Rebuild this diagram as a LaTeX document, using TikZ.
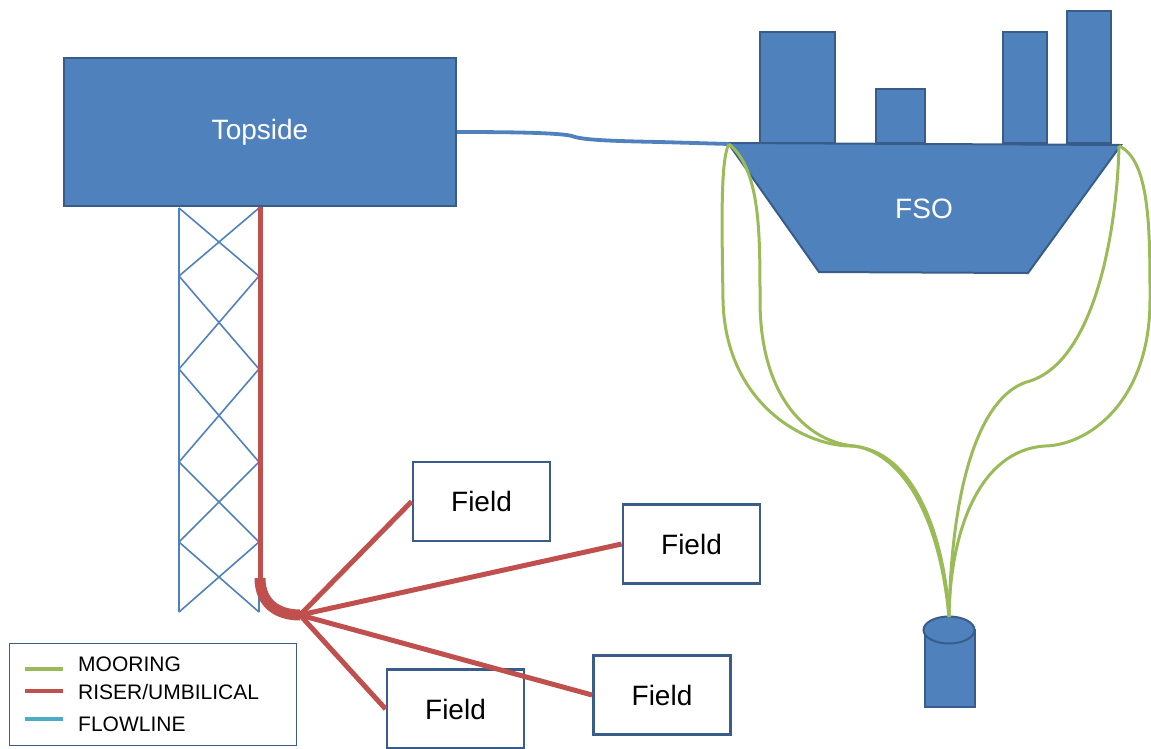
\documentclass[tikz,border=0pt]{standalone}
\usepackage{fontspec}
\setmainfont{Liberation Sans}
\usetikzlibrary{positioning}

\definecolor{shipblue}{HTML}{4F81BD}
\definecolor{edgeblue}{HTML}{385D8A}
\definecolor{riserred}{HTML}{C0504D}
\definecolor{mooringgreen}{HTML}{9BBB59}
\definecolor{flowcyan}{HTML}{4BACC6}

\begin{document}
\begin{tikzpicture}[x=1pt, y=-1pt,
			hull/.style={fill=shipblue, draw=edgeblue, line width=2pt},
			block/.style={rectangle, hull, text=white, font=\fontsize{28}{32}\selectfont},
			field/.style={rectangle, draw=edgeblue, line width=2.8pt, fill=white, inner sep=0pt,
					minimum width=137pt, minimum height=79pt, font=\fontsize{28}{32}\selectfont},
			jacket/.style={draw=shipblue, line width=1.6pt},
			riser/.style={draw=riserred, line width=5pt},
			mooring/.style={draw=mooringgreen, line width=3pt},
			flowline/.style={draw=shipblue, line width=3.8pt},
			legendtext/.style={anchor=west, inner sep=0pt, font=\fontsize{21}{24}\selectfont},]
		\useasboundingbox (0,0) rectangle (1151,748);

		% platform: topside on a lattice jacket
		\node (topside) [block, minimum width=392pt, minimum height=148pt] at (260,132) {Topside};

		\draw [jacket] (179,208) -- (179,612) (259,208) -- (259,612)
		(179,208) -- (259,276) -- (179,369) -- (259,462) -- (179,542) -- (259,612)
		(259,208) -- (179,276) -- (259,369) -- (179,462) -- (259,542) -- (179,612);

		% FSO with its deck houses
		\draw [hull] (760,32) rectangle (835,143);
		\draw [hull] (876,89) rectangle (925,143);
		\draw [hull] (1003,32) rectangle (1047,143);
		\draw [hull] (1067,11) rectangle (1111,143);
		\draw [hull] (728,143) -- (1121,145) -- (1028,273) -- (819,272) -- cycle;
		\node (fso) [text=white, font=\fontsize{28}{32}\selectfont] at (924,209) {FSO};

		\coordinate (portcorner) at (729,144);
		\coordinate (stbdcorner) at (1119,146);

		% flowline between topside and FSO
		\draw [flowline] (topside.east) .. controls (520,132) and (560,133) .. (572,136)
		.. controls (582,140) and (610,141) .. (660,142) -- (portcorner);

		% mooring buoy
		\draw [hull] (925,630) rectangle (975,707);
		\draw [hull] (949,630) ellipse [x radius=25.5, y radius=13.5];
		\coordinate (buoy) at (949,617);

		% mooring legs
		\draw [mooring] (portcorner) .. controls (720,160) and (722,230) .. (723,300)
		.. controls (725,400) and (800,445) .. (850,446) .. controls (915,448) and (945,540) .. (buoy);
		\draw [mooring] (portcorner) .. controls (760,170) and (760,230) .. (760,300)
		.. controls (760,400) and (810,443) .. (855,446) .. controls (905,455) and (940,520) .. (buoy);
		\draw [mooring] (stbdcorner) .. controls (1117,230) and (1095,360) .. (1030,381)
		.. controls (985,392) and (952,470) .. (buoy);
		\draw [mooring] (stbdcorner) .. controls (1150,160) and (1150,230) .. (1150,300)
		.. controls (1150,400) and (1090,445) .. (1045,446) .. controls (980,450) and (950,530) .. (buoy);

		% subsea fields
		\node (fieldA) [field] at (481.5,501.5) {Field};
		\node (fieldB) [field] at (691.5,544) {Field};
		\node (fieldC) [field] at (455.5,709) {Field};
		\node (fieldD) [field] at (662,695) {Field};

		% riser down the jacket and out to the fields
		\coordinate (hub) at (300,615);
		\draw [riser] (topside.south) -- (260,580);
		\draw [riser, line width=11pt] (260,578) .. controls (260,603) and (277,615) .. (hub);
		\draw [riser] (hub) -- (fieldA.west);
		\draw [riser] (hub) -- (fieldB.west);
		\draw [riser] (hub) -- (fieldC.west);
		\draw [riser] (hub) -- (fieldD.west);

		% legend
		\node (legend) [draw=edgeblue, line width=1.5pt, minimum width=287pt, minimum height=102pt] at (153,694.5) {};
		\node (moorlbl) [legendtext] at (78,664) {MOORING};
		\node (riserlbl) [legendtext] at (78,692) {RISER/UMBILICAL};
		\node (flowlbl) [legendtext] at (78,724) {FLOWLINE};
		\draw [mooring, line width=3.5pt] (25,669) -- (63,669);
		\draw [riser, line width=3.5pt] (25,691) -- (63,691);
		\draw [draw=flowcyan, line width=3.5pt] (25,719) -- (63,719);
	\end{tikzpicture}
\end{document}
